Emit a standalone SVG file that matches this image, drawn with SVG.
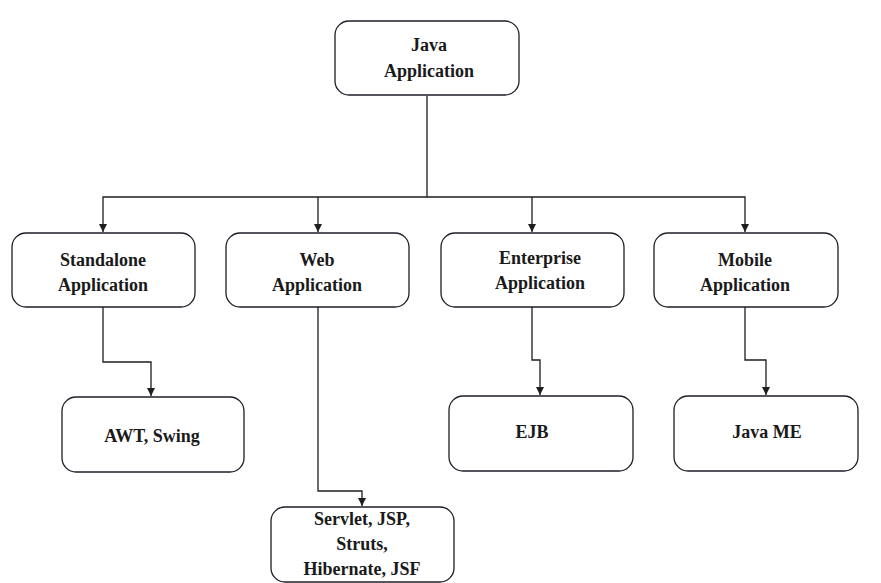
<svg xmlns="http://www.w3.org/2000/svg" width="881" height="583" viewBox="0 0 881 583">
<style>
.box{fill:#fff;stroke:#1e1e28;stroke-width:1.3}
.t{font-weight:700;font-size:18px;fill:#1a1a1a;text-anchor:middle}
.c{fill:none;stroke:#1e1e1e;stroke-width:1.3}
</style>
<defs>
<marker id="arr" viewBox="0 0 10 10" refX="10" refY="5" markerWidth="8" markerHeight="8" markerUnits="userSpaceOnUse" orient="auto">
<path d="M0,0 L10,5 L0,10 Z" fill="#1e1e1e"/>
</marker>
</defs>
<rect width="881" height="583" fill="#fff"/>
<g id="connectors">
<path class="c" d="M427,96 V197 H103 V232" marker-end="url(#arr)"/>
<path class="c" d="M318,197 V232" marker-end="url(#arr)"/>
<path class="c" d="M427,197 H745 V232" marker-end="url(#arr)"/>
<path class="c" d="M532,197 V232" marker-end="url(#arr)"/>
<path class="c" d="M103,307 V362 H151 V396" marker-end="url(#arr)"/>
<path class="c" d="M318,307 V491 H362 V506" marker-end="url(#arr)"/>
<path class="c" d="M532,307 V360 H540 V395" marker-end="url(#arr)"/>
<path class="c" d="M745,307 V360 H766 V395" marker-end="url(#arr)"/>
</g>
<g font-family="Liberation Serif, Times New Roman, Tinos, DejaVu Serif, Noto Serif, serif">
<g id="java-application">
<rect class="box" x="335" y="21" width="184" height="74" rx="14"/>
<text class="t" x="429" y="51">Java</text>
<text class="t" x="429" y="77">Application</text>
</g>
<g id="standalone">
<rect class="box" x="12" y="233" width="183" height="74" rx="14"/>
<text class="t" x="103" y="266">Standalone</text>
<text class="t" x="103" y="291">Application</text>
</g>
<g id="web">
<rect class="box" x="226" y="233" width="183" height="74" rx="14"/>
<text class="t" x="317" y="266">Web</text>
<text class="t" x="317" y="291">Application</text>
</g>
<g id="enterprise">
<rect class="box" x="441" y="233" width="183" height="74" rx="14"/>
<text class="t" x="540" y="264">Enterprise</text>
<text class="t" x="540" y="289">Application</text>
</g>
<g id="mobile">
<rect class="box" x="654" y="233" width="184" height="74" rx="14"/>
<text class="t" x="745" y="266">Mobile</text>
<text class="t" x="745" y="291">Application</text>
</g>
<g id="awt-swing">
<rect class="box" x="62" y="397" width="182" height="75" rx="14"/>
<text class="t" x="152" y="442">AWT, Swing</text>
</g>
<g id="servlet">
<rect class="box" x="271" y="507" width="183" height="75" rx="14"/>
<text class="t" x="362" y="525">Servlet, JSP,</text>
<text class="t" x="362" y="550">Struts,</text>
<text class="t" x="362" y="575">Hibernate, JSF</text>
</g>
<g id="ejb">
<rect class="box" x="449" y="396" width="184" height="75" rx="14"/>
<text class="t" x="532" y="438">EJB</text>
</g>
<g id="java-me">
<rect class="box" x="674" y="396" width="184" height="75" rx="14"/>
<text class="t" x="767" y="438">Java ME</text>
</g>
</g>
</svg>
